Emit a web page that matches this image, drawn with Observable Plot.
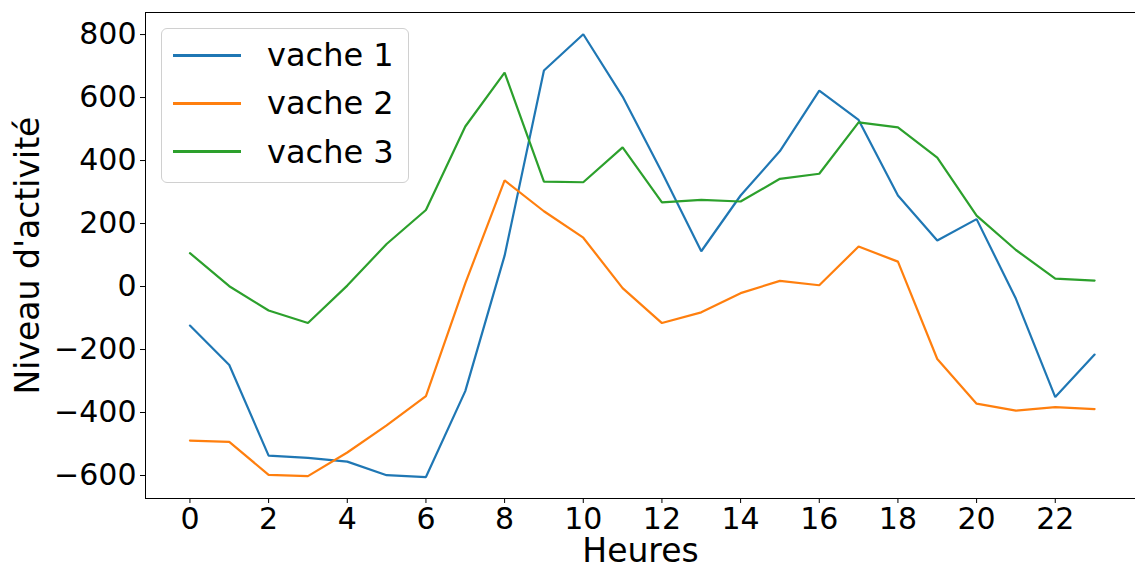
<!DOCTYPE html>
<html><head><meta charset="utf-8">
<script src="https://cdn.jsdelivr.net/npm/d3@7"></script>
<script src="https://cdn.jsdelivr.net/npm/@observablehq/plot@0.6"></script>
<style>
body{margin:0;background:#fff;font-family:"DejaVu Sans",sans-serif;}
#wrap{position:relative;width:1135px;height:567px;overflow:hidden;}
.legend{position:absolute;left:161px;top:28px;width:248px;height:155px;border:1px solid #d0d0d0;border-radius:6px;background:rgba(255,255,255,0.8);box-sizing:border-box;font-family:"DejaVu Sans";font-size:32px;color:#000;}
.legend .row{position:absolute;left:11px;height:34px;display:flex;align-items:center;}
.legend .sw{width:68px;height:3px;margin-right:26px;}
</style></head><body><div id="wrap"></div>
<script>
const hours = [0,1,2,3,4,5,6,7,8,9,10,11,12,13,14,15,16,17,18,19,20,21,22,23];
const seriesNames = ["vache 1","vache 2","vache 3"];
const colors = ["#1f77b4","#ff7f0e","#2ca02c"];
const vache1 = [-124,-249,-537,-544,-556,-599,-605,-332,98,686,801,603,363,112,289,430,622,529,289,146,214,-39,-351,-216];
const vache2 = [-489,-493,-598,-602,-527,-441,-348,10,337,239,155,-5,-116,-82,-21,18,4,127,79,-230,-372,-394,-383,-389];
const vache3 = [106,1,-76,-116,3,135,243,508,679,333,331,442,267,275,270,342,358,521,505,409,225,116,25,19];
const xTicks = [0,2,4,6,8,10,12,14,16,18,20,22];
const yTicks = [-600,-400,-200,0,200,400,600,800];
const xLabel = "Heures";
const yLabel = "Niveau d'activité";

const allSeries = [vache1, vache2, vache3];
const data = [];
allSeries.forEach((vals, si) => vals.forEach((v, i) => data.push({heure: hours[i], valeur: v, vache: seriesNames[si]})));

const xDom = [-1.13, 24.04];
const yDom = [-673, 870];
const fmt = d3.format("d");

const chart = Plot.plot({
  width: 1135, height: 567,
  marginLeft: 145, marginRight: 0, marginTop: 12, marginBottom: 69,
  style: {fontFamily: "DejaVu Sans", background: "#fff", color: "#000", overflow: "visible"},
  x: {domain: xDom},
  y: {domain: yDom},
  color: {domain: seriesNames, range: colors},
  marks: [
    Plot.ruleX([xDom[0]], {stroke: "#000", strokeWidth: 1}),
    Plot.ruleY([yDom[0]], {stroke: "#000", strokeWidth: 1}),
    Plot.ruleY([yDom[1]], {stroke: "#000", strokeWidth: 1}),
    Plot.line(data, {x: "heure", y: "valeur", z: "vache", stroke: "vache", strokeWidth: 2.2, strokeLinejoin: "miter"}),
    Plot.axisX({ticks: xTicks, tickSize: 5, tickPadding: 4, fontSize: 30, tickFormat: fmt, label: null}),
    Plot.axisX({ticks: [], tickSize: 0, fontSize: 33, label: xLabel, labelAnchor: "center", labelOffset: 63, labelArrow: "none"}),
    Plot.axisY({ticks: yTicks, tickSize: 5, tickPadding: 4, fontSize: 30, tickFormat: fmt, label: null}),
    Plot.axisY({ticks: [], tickSize: 0, fontSize: 33, label: yLabel, labelAnchor: "center", labelOffset: 130, labelArrow: "none"})
  ]
});
const wrap = document.getElementById("wrap");
wrap.appendChild(chart);

const leg = document.createElement("div");
leg.className = "legend";
seriesNames.forEach((n, i) => {
  const row = document.createElement("div");
  row.className = "row";
  row.style.top = (9 + i * 48.3) + "px";
  const sw = document.createElement("div");
  sw.className = "sw";
  sw.style.background = colors[i];
  const t = document.createElement("span");
  t.textContent = n;
  row.appendChild(sw); row.appendChild(t);
  leg.appendChild(row);
});
wrap.appendChild(leg);
</script>
</body></html>
